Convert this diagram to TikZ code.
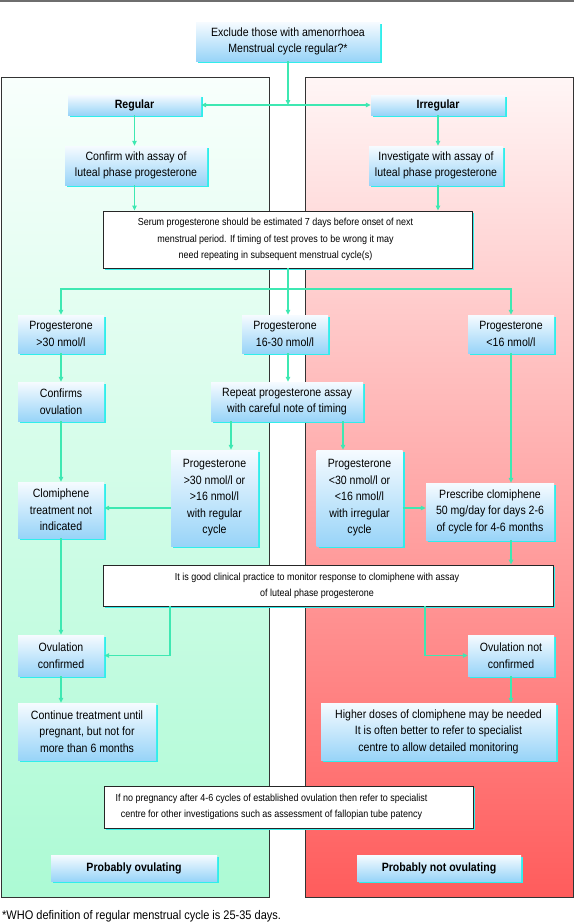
\documentclass[tikz,border=0pt]{standalone}
\usepackage{fontspec}
\setmainfont{Liberation Sans}[FakeStretch=0.88]
\usetikzlibrary{arrows.meta,shadows}
\definecolor{flowline}{RGB}{62,232,178}
\definecolor{boxtop}{RGB}{246,251,255}
\definecolor{boxbot}{RGB}{152,212,248}
\definecolor{boxshade}{RGB}{48,238,235}
\definecolor{greentop}{RGB}{248,255,252}
\definecolor{greenbot}{RGB}{172,250,212}
\definecolor{redtop}{RGB}{255,246,246}
\definecolor{redbot}{RGB}{255,92,92}
\definecolor{rulegray}{RGB}{110,110,110}
\begin{document}
\begin{tikzpicture}[x=1pt,y=-1pt,>={Triangle[length=5pt,width=4.5pt]},
  font=\fontsize{12}{16.5}\selectfont,
  bluebox/.style={top color=boxtop,bottom color=boxbot,draw=none,align=center,inner sep=1pt,
    drop shadow={fill=boxshade,opacity=1,shadow xshift=2pt,shadow yshift=-2pt}},
  whitebox/.style={fill=white,draw=black!85,line width=0.8pt,inner sep=0pt,
    drop shadow={fill=boxshade,opacity=1,shadow xshift=2pt,shadow yshift=-2pt}},
  smalltext/.style={font=\fontsize{10.2}{16.2}\selectfont,align=center},
  panel/.style={draw=black!80,line width=0.8pt},
  arr/.style={draw=flowline,line width=1.2pt,->}]
\useasboundingbox (0,0) rectangle (574,924);
\draw[rulegray,line width=2pt] (0,1) -- (574,1);
% the two columns
\draw[panel,top color=greentop,bottom color=greenbot] (1,77) rectangle (269,897);
\draw[panel,top color=redtop,bottom color=redbot] (305,77) rectangle (573,897);

% boxes
\node[bluebox,minimum width=184pt,minimum height=39pt] (start) at (288,41.5) {Exclude those with amenorrhoea\\Menstrual cycle regular?*};
\node[bluebox,minimum width=133pt,minimum height=20pt,font=\fontsize{12}{16.5}\selectfont\bfseries] (regular) at (134.5,105) {Regular};
\node[bluebox,minimum width=134pt,minimum height=20pt,font=\fontsize{12}{16.5}\selectfont\bfseries] (irregular) at (438,105) {Irregular};
\node[bluebox,minimum width=142pt,minimum height=39pt] (confirm) at (136,165.5) {Confirm with assay of\\luteal phase progesterone};
\node[bluebox,minimum width=134pt,minimum height=39pt] (investigate) at (436,165.5) {Investigate with assay of\\luteal phase progesterone};
\node[whitebox,minimum width=369pt,minimum height=57pt,
  label={[smalltext,xshift=-12pt]center:{Serum progesterone should be estimated 7 days before onset of next\\menstrual period. If timing of test proves to be wrong it may\\need repeating in subsequent menstrual cycle(s)}}] (serum) at (287.5,239.5) {};
\node[bluebox,minimum width=86pt,minimum height=38pt] (progA) at (61,334) {Progesterone\\>30 nmol/l};
\node[bluebox,minimum width=86pt,minimum height=38pt] (progB) at (285,334) {Progesterone\\16-30 nmol/l};
\node[bluebox,minimum width=86pt,minimum height=38pt] (progC) at (511,334) {Progesterone\\<16 nmol/l};
\node[bluebox,minimum width=86pt,minimum height=39pt] (ovul) at (61,401.5) {Confirms\\ovulation};
\node[bluebox,minimum width=152pt,minimum height=39pt] (repeat) at (287,401.5) {Repeat progesterone assay\\with careful note of timing};
\node[bluebox,minimum width=87pt,minimum height=96pt] (progD) at (214.5,498) {Progesterone\\>30 nmol/l or\\>16 nmol/l\\with regular\\cycle};
\node[bluebox,minimum width=86pt,minimum height=96pt] (progE) at (359.5,498) {Progesterone\\<30 nmol/l or\\<16 nmol/l\\with irregular\\cycle};
\node[bluebox,minimum width=86pt,minimum height=56pt] (notind) at (61,510) {Clomiphene\\treatment not\\indicated};
\node[bluebox,minimum width=128pt,minimum height=57pt] (prescribe) at (490,511.5) {Prescribe clomiphene\\50 mg/day for days 2-6\\of cycle for 4-6 months};
\node[whitebox,minimum width=450pt,minimum height=41pt,
  label={[smalltext,xshift=-11pt]center:{It is good clinical practice to monitor response to clomiphene with assay\\of luteal phase progesterone}}] (monitor) at (328,585.5) {};
\node[bluebox,minimum width=86pt,minimum height=41pt] (ovyes) at (61,655.5) {Ovulation\\confirmed};
\node[bluebox,minimum width=86pt,minimum height=41pt] (ovno) at (511,655.5) {Ovulation not\\confirmed};
\node[bluebox,minimum width=138pt,minimum height=57pt] (continue) at (87,731.5) {Continue treatment until\\pregnant, but not for\\more than 6 months};
\node[bluebox,minimum width=235pt,minimum height=57pt] (higher) at (438.5,731.5) {Higher doses of clomiphene may be needed\\It is often better to refer to specialist\\centre to allow detailed monitoring};
\node[whitebox,minimum width=369pt,minimum height=42pt,
  label={[smalltext,xshift=-17pt]center:{If no pregnancy after 4-6 cycles of established ovulation then refer to specialist\\centre for other investigations such as assessment of fallopian tube patency}}] (specialist) at (288.5,807) {};
\node[bluebox,minimum width=166pt,minimum height=26pt,font=\fontsize{12}{16.5}\selectfont\bfseries] (probyes) at (134,868) {Probably ovulating};
\node[bluebox,minimum width=164pt,minimum height=26pt,font=\fontsize{12}{16.5}\selectfont\bfseries] (probno) at (439,868) {Probably not ovulating};
\node[anchor=west,inner sep=0pt,font=\fontsize{12.5}{15}\selectfont] (footnote) at (2,916) {*WHO definition of regular menstrual cycle is 25-35 days.};

% connectors
\draw[arr] (start) -- (start |- regular);
\draw[arr,<->] (regular) -- (irregular);
\draw[arr] (regular) -- (regular |- confirm.north);
\draw[arr] (irregular) -- (irregular |- investigate.north);
\draw[arr] (confirm.south -| regular) -- (regular |- serum.north);
\draw[arr] (investigate.south -| irregular) -- (irregular |- serum.north);
\coordinate (split) at (start |- 0,289);
\draw[arr] (serum.south -| start) -- (start |- progB.north);
\draw[arr] (split) -| (progA.north);
\draw[arr] (split) -| (progC.north);
\draw[arr] (progA) -- (ovul);
\draw[arr] (progB.south -| start) -- (start |- repeat.north);
\draw[arr] (ovul) -- (notind);
\draw[arr] ([xshift=-56pt]repeat.south) -- ([xshift=-56pt]repeat.south |- progD.north);
\draw[arr] ([xshift=56pt]repeat.south) -- ([xshift=56pt]repeat.south |- progE.north);
\draw[arr] (progD.west |- 0,508) -- (notind.east |- 0,508);
\draw[arr] (progE.east |- 0,508) -- (prescribe.west |- 0,508);
\draw[arr] (progC) -- (progC |- prescribe.north);
\draw[arr] (progC |- prescribe.south) -- (progC |- monitor.north);
\draw[arr] (notind) -- (ovyes);
\draw[arr] ([xshift=-158pt]monitor.south) |- (ovyes.east);
\draw[arr] ([xshift=97pt]monitor.south) |- (ovno.west);
\draw[arr] (ovyes) -- (ovyes |- continue.north);
\draw[arr] (ovno.south -| progC) -- (progC |- higher.north);
\end{tikzpicture}
\end{document}
